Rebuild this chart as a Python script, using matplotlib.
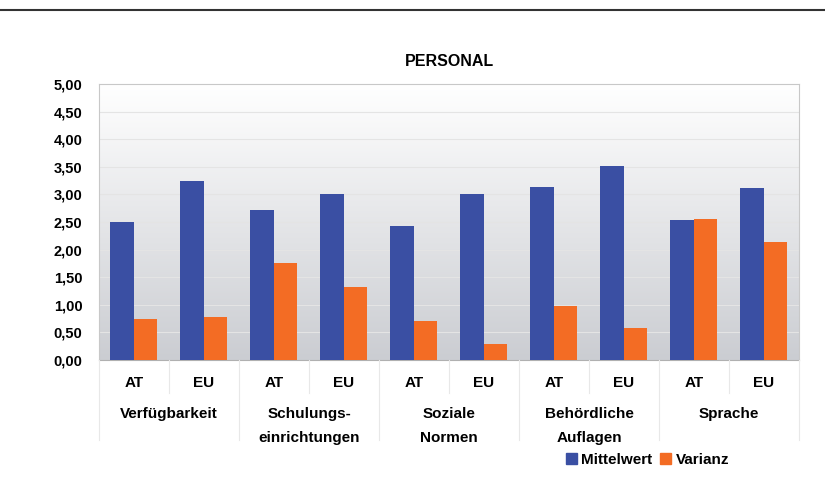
import numpy as np
import matplotlib.pyplot as plt
from matplotlib.lines import Line2D
from matplotlib.patches import Patch
from matplotlib.colors import LinearSegmentedColormap
import matplotlib.transforms as mtransforms

plt.rcParams['font.family'] = ['Liberation Sans', 'DejaVu Sans']

groups = ['Verfügbarkeit', 'Schulungs-\neinrichtungen', 'Soziale\nNormen',
          'Behördliche\nAuflagen', 'Sprache']
subs = ['AT', 'EU']
mittelwert = [2.50, 3.24, 2.71, 3.00, 2.43, 3.00, 3.13, 3.51, 2.53, 3.12]
varianz = [0.74, 0.78, 1.76, 1.33, 0.71, 0.29, 0.98, 0.58, 2.56, 2.13]
yticks = np.arange(0, 5.01, 0.5)

blue = '#3a4fa3'
orange = '#f36c24'

fig = plt.figure(figsize=(8.25, 4.93), dpi=100)
ax = fig.add_axes([0.12, 0.2698, 0.8485, 0.5598])

n = len(mittelwert)
x = np.arange(n)

# gradient background
grad = np.linspace(1, 0, 256).reshape(-1, 1)
cmap = LinearSegmentedColormap.from_list('g', ['#cbcdd2', '#ffffff'])
ax.imshow(grad, extent=[-0.5, n - 0.5, 0, 5], aspect='auto', cmap=cmap,
          zorder=0, origin='upper')

ax.bar(x - 0.17, mittelwert, width=0.34, color=blue, zorder=3)
ax.bar(x + 0.165, varianz, width=0.335, color=orange, zorder=3)

ax.set_xlim(-0.5, n - 0.5)
ax.set_ylim(0, 5)
ax.set_yticks(yticks)
ax.set_yticklabels([f'{v:.2f}'.replace('.', ',') for v in yticks],
                   fontsize=10.5, fontweight='bold')
ax.tick_params(axis='y', length=0, pad=12)
ax.set_xticks([])
for v in yticks[1:-1]:
    ax.axhline(v, color='#e4e4e4', lw=0.8, zorder=1)
for s in ['top', 'right', 'left']:
    ax.spines[s].set_color('#c8c8c8')
ax.spines['bottom'].set_color('#b0b0b0')

# two-level category axis
trans = mtransforms.blended_transform_factory(ax.transData, fig.transFigure)
for i in range(n):
    ax.text(i, 1 - 383 / 493, subs[i % 2], transform=trans, ha='center', va='center',
            fontsize=11, fontweight='bold')
for g, name in enumerate(groups):
    ax.text(2 * g + 0.5, 1 - 407 / 493, name, transform=trans, ha='center', va='top',
            fontsize=11, fontweight='bold', linespacing=1.9)
for i in range(n + 1):
    bottom = 1 - 440 / 493 if i % 2 == 0 else 1 - 393 / 493
    fig.add_artist(Line2D([i - 0.5, i - 0.5], [1 - 360 / 493, bottom], transform=trans,
                          color='#e8e8e8', lw=0.8))

ax.set_title('PERSONAL', fontsize=11.5, fontweight='bold', pad=13)

handles = [Patch(color=blue, label='Mittelwert'), Patch(color=orange, label='Varianz')]
fig.legend(handles=handles, loc='center', bbox_to_anchor=(0.785, 0.067), ncol=2,
           frameon=False, handlelength=0.7, handleheight=0.7, handletextpad=0.3,
           columnspacing=0.5, prop={'weight': 'bold', 'size': 11})

fig.add_artist(Line2D([0, 1], [1 - 10 / 493, 1 - 10 / 493], color='#333333', lw=1.5))

fig.savefig('out.png', dpi=100)
